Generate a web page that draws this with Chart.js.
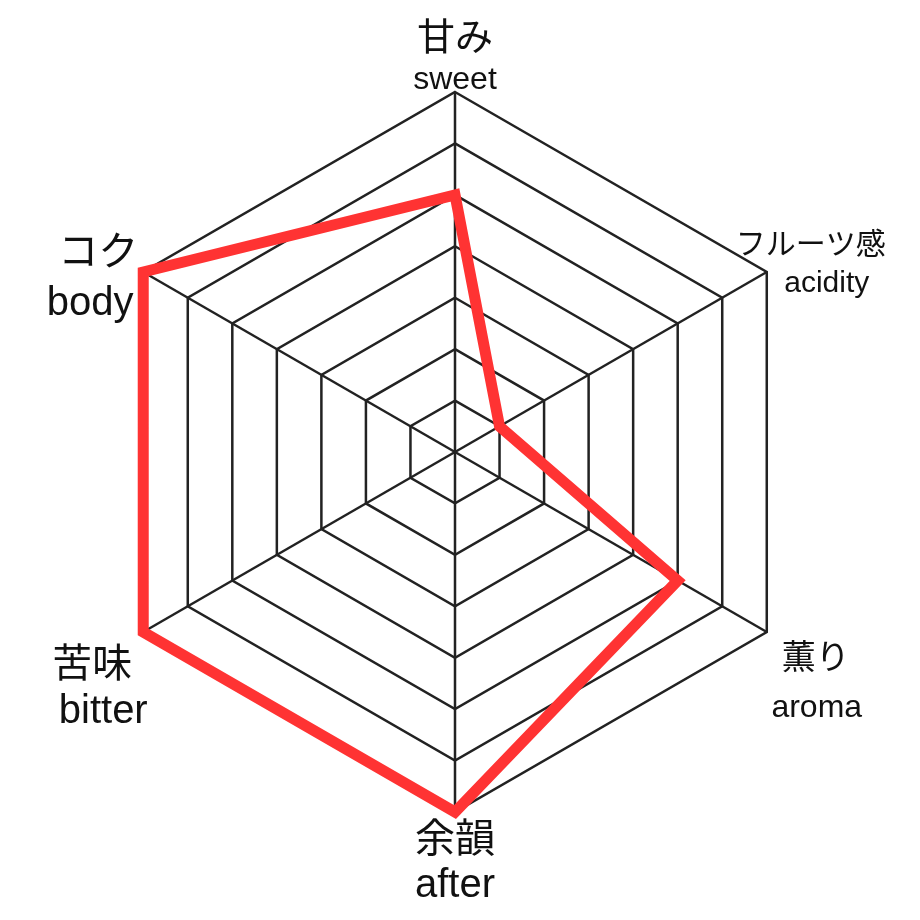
<!DOCTYPE html>
<html>
<head>
<meta charset="utf-8">
<script src="https://cdn.jsdelivr.net/npm/chart.js@4"></script>
<style>
  html, body { margin: 0; padding: 0; background: #fff; }
  #wrap { width: 920px; height: 920px; }
</style>
</head>
<body>
<div id="wrap"><canvas id="taste-chart"></canvas></div>
<script>
// Chart data
const labelsJa = ['甘み', 'フルーツ感', '薫り', '余韻', '苦味', 'コク'];
const labelsEn = ['sweet', 'acidity', 'aroma', 'after', 'bitter', 'body'];
const tasteValues = [5, 1, 5, 7, 7, 7];
const scaleMax = 7;

// label look: font sizes and offsets from each outer corner
const jaSizes = [38, 30, 34, 40, 40, 40];
const enSizes = [32, 30, 32, 40, 40, 40];
const jaOffsets = [[0, -42], [44, -18], [49, 37], [0, 40], [-51, 45], [-45, -7]];
const enOffsets = [[0, -3], [60, 20], [50, 85], [0, 85], [-40, 91], [-53, 43]];

const fontFamily = '"Liberation Sans", "Noto Sans CJK JP", sans-serif';

// draw the two-line labels (bigger japanese line, english line under it)
const twoLineLabels = {
    id: 'twoLineLabels',
    afterDraw(chart) {
        const scale = chart.scales.r;
        const ctx = chart.ctx;
        ctx.save();
        ctx.fillStyle = '#111';
        ctx.textAlign = 'center';
        ctx.textBaseline = 'alphabetic';
        labelsJa.forEach(function(ja, i) {
            const pt = scale.getPointPosition(i, scale.drawingArea);
            ctx.font = jaSizes[i] + 'px ' + fontFamily;
            ctx.fillText(ja, pt.x + jaOffsets[i][0], pt.y + jaOffsets[i][1]);
            ctx.font = enSizes[i] + 'px ' + fontFamily;
            ctx.fillText(labelsEn[i], pt.x + enOffsets[i][0], pt.y + enOffsets[i][1]);
        });
        ctx.restore();
    }
};

const ctx = document.getElementById('taste-chart');

new Chart(ctx, {
    type: 'radar',
    data: {
        labels: labelsEn,
        datasets: [{
            data: tasteValues,
            borderColor: '#ff3333',
            borderWidth: 11,
            borderJoinStyle: 'miter',
            fill: false,
            pointRadius: 0,
            pointHoverRadius: 0,
            tension: 0
        }]
    },
    options: {
        responsive: true,
        maintainAspectRatio: false,
        animation: false,
        layout: {
            padding: { left: 95, right: 105, top: 92, bottom: 108 }
        },
        scales: {
            r: {
                min: 0,
                max: scaleMax,
                ticks: { display: false, stepSize: 1 },
                pointLabels: { display: false },
                grid: { color: '#222', lineWidth: 2.5 },
                angleLines: { color: '#222', lineWidth: 2.5 }
            }
        },
        plugins: {
            legend: { display: false },
            tooltip: { enabled: false }
        }
    },
    plugins: [twoLineLabels]
});
</script>
</body>
</html>
